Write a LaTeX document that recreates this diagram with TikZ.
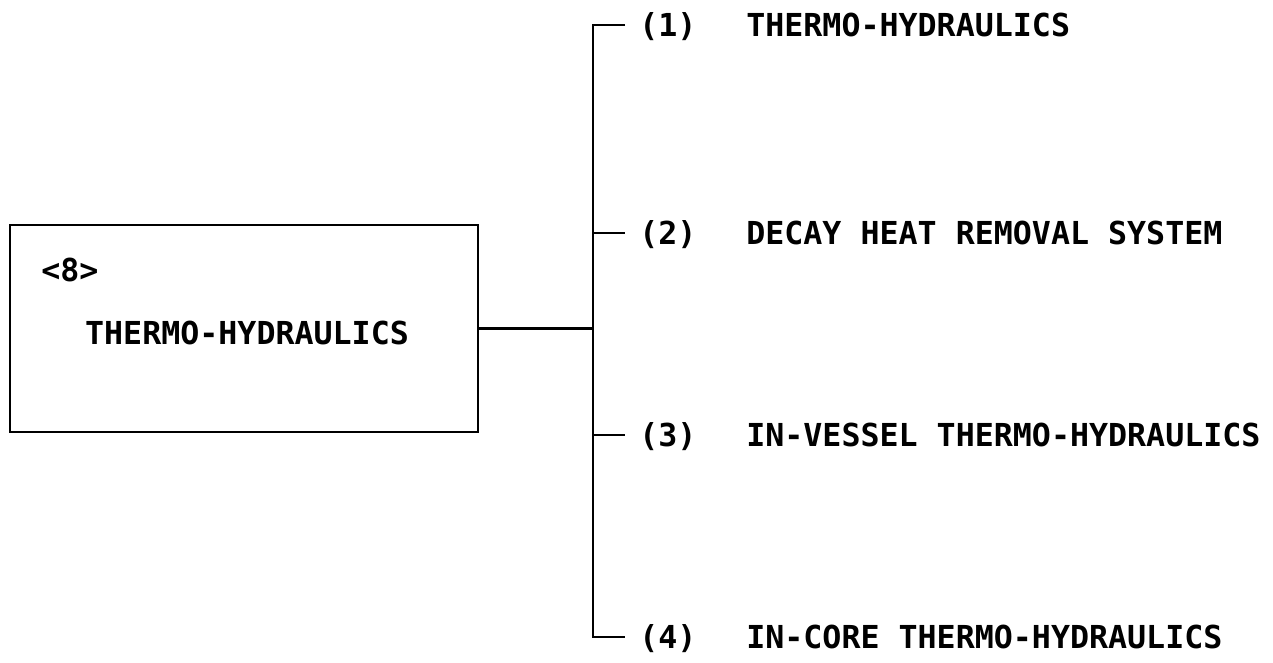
\documentclass[tikz,border=0pt]{standalone}
\usepackage{fontspec}
\setmonofont{DejaVu Sans Mono}
\usetikzlibrary{positioning}

\begin{document}
\begin{tikzpicture}[
  every node/.style={font=\ttfamily\bfseries\fontsize{18}{20}\selectfont,
    inner sep=0pt, text height=13pt, text depth=0pt},
  line width=1.5pt]
\useasboundingbox (0,0) rectangle (25.46,13.26);

\node[draw, minimum width=9.36cm, minimum height=4.14cm] (box) at (4.88,6.69) {};
\node[anchor=west] (num) at (0.8,7.86) {<8>};
\node (title) at (4.94,6.6) {THERMO-HYDRAULICS};

\coordinate (jn) at (11.86,6.69);
\draw (box.east) -- (jn);

\foreach \i/\y/\txt in {1/12.76/THERMO-HYDRAULICS,
                        2/8.6/DECAY HEAT REMOVAL SYSTEM,
                        3/4.56/IN-VESSEL THERMO-HYDRAULICS,
                        4/0.52/IN-CORE THERMO-HYDRAULICS}
{
  \coordinate (s\i) at (11.86,\y);
  \node[anchor=west, inner xsep=0.26cm] (n\i) at (12.5,\y) {(\i)};
  \node[anchor=west] (l\i) at (14.9,\y) {\txt};
}

\draw (n1.west) -- (s1) -- (s4) -- (n4.west);
\draw (s2) -- (n2.west);
\draw (s3) -- (n3.west);
\end{tikzpicture}
\end{document}
